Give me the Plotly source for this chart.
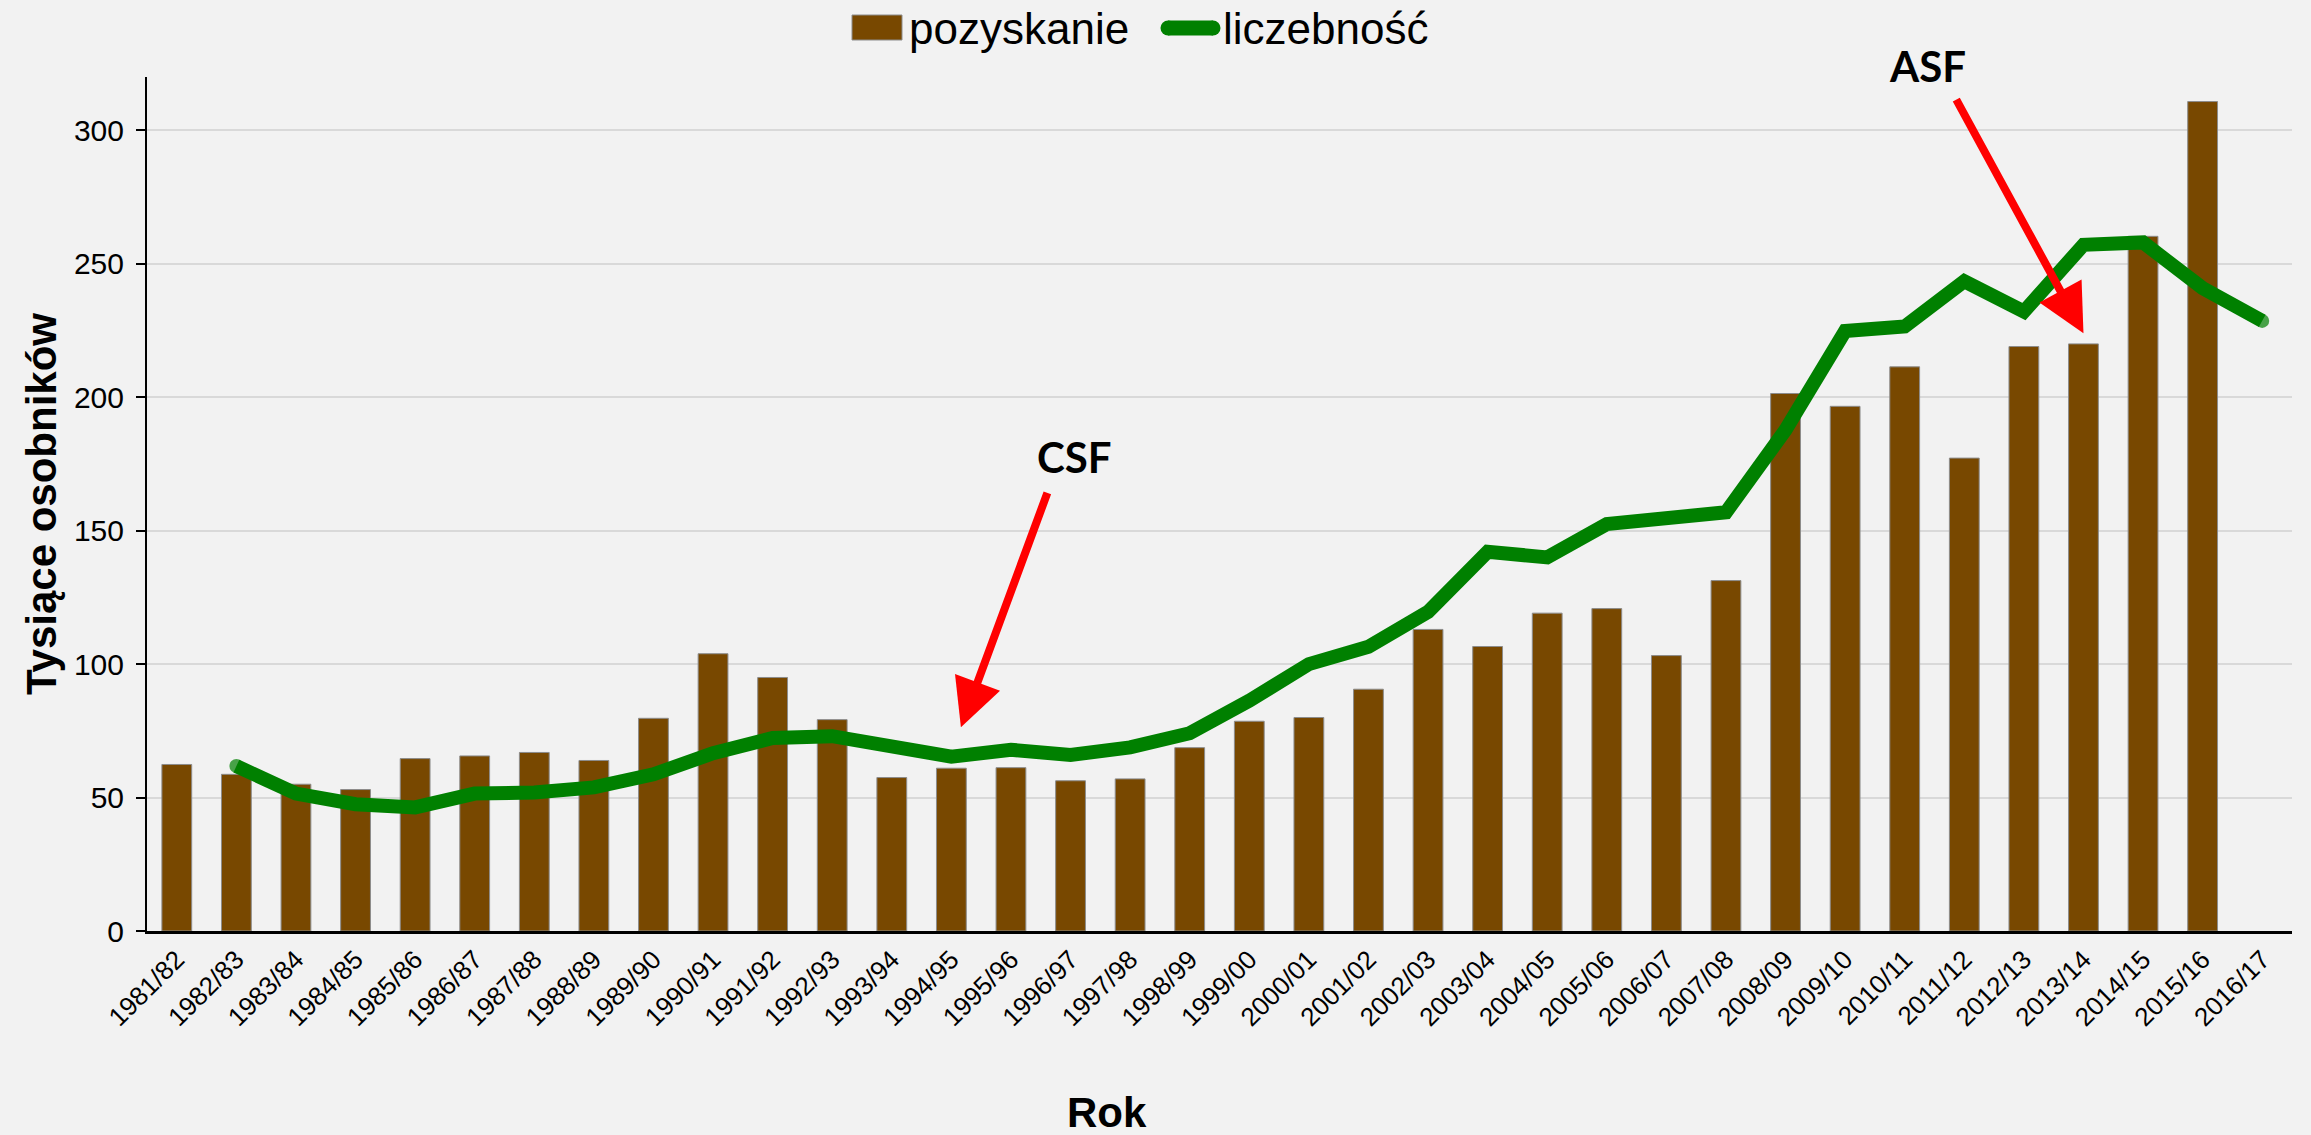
import plotly.graph_objects as go

categories = ["1981/82", "1982/83", "1983/84", "1984/85", "1985/86", "1986/87",
              "1987/88", "1988/89", "1989/90", "1990/91", "1991/92", "1992/93",
              "1993/94", "1994/95", "1995/96", "1996/97", "1997/98", "1998/99",
              "1999/00", "2000/01", "2001/02", "2002/03", "2003/04", "2004/05",
              "2005/06", "2006/07", "2007/08", "2008/09", "2009/10", "2010/11",
              "2011/12", "2012/13", "2013/14", "2014/15", "2015/16", "2016/17"]

pozyskanie = [62.4, 58.7, 55.0, 53.0, 64.6, 65.6, 66.9, 63.9, 79.7, 103.9,
              95.0, 79.2, 57.5, 61.0, 61.2, 56.3, 57.0, 68.7, 78.6, 80.0,
              90.6, 113.0, 106.6, 119.1, 120.8, 103.2, 131.3, 201.4, 196.6, 211.4,
              177.2, 219.0, 220.0, 260.3, 310.8, None]

liczebnosc_categories = categories[1:]
liczebnosc = [61.8, 51.5, 47.5, 46.3, 51.5, 51.9, 53.8, 58.7, 66.6, 72.3,
              73.0, 69.0, 65.3, 67.9, 66.0, 68.8, 74.1, 86.3, 100.0, 106.5,
              119.6, 142.1, 140.0, 152.5, 155.3, 156.9, 187.8, 224.8, 226.5, 243.5,
              232.1, 257.1, 258.0, 240.9, 228.6]

y_ticks = [0, 50, 100, 150, 200, 250, 300]

BG = "#F2F2F2"
BROWN = "#784800"
GREEN = "#008000"
FONT = "Liberation Sans, Arial, sans-serif"
LW = 14

W, H = 2311, 1135
ML, MR, MT, MB = 147, 19, 77, 204
PW, PH = W - ML - MR, H - MT - MB


def px(X):
    return (X - ML) / PW


def py(Y):
    return (H - MB - Y) / PH


# line end caps (rounded) drawn as markers at the ends of the line trace
end_sizes = [LW] + [0] * (len(liczebnosc) - 2) + [LW]

fig = go.Figure()
fig.add_trace(go.Bar(
    x=categories, y=pozyskanie, name="pozyskanie",
    marker=dict(color=BROWN, line=dict(color="#8C8C8C", width=1)),
))
fig.add_trace(go.Scatter(
    x=liczebnosc_categories, y=liczebnosc, name="liczebność", mode="lines+markers",
    line=dict(color=GREEN, width=LW),
    marker=dict(color=GREEN, size=end_sizes, line=dict(width=0)),
))

# custom legend
legend_shapes = [
    dict(type="rect", xref="paper", yref="paper",
         x0=px(852), x1=px(902), y0=py(40), y1=py(15),
         fillcolor=BROWN, line=dict(color="#8C8C8C", width=1)),
    dict(type="line", xref="paper", yref="paper",
         x0=px(1168), x1=px(1213), y0=py(28), y1=py(28),
         line=dict(color=GREEN, width=15)),
    dict(type="circle", xref="paper", yref="paper", xsizemode="pixel", ysizemode="pixel",
         xanchor=px(1168), yanchor=py(28), x0=-7.5, x1=7.5, y0=-7.5, y1=7.5,
         fillcolor=GREEN, line=dict(width=0)),
    dict(type="circle", xref="paper", yref="paper", xsizemode="pixel", ysizemode="pixel",
         xanchor=px(1213), yanchor=py(28), x0=-7.5, x1=7.5, y0=-7.5, y1=7.5,
         fillcolor=GREEN, line=dict(width=0)),
]

fig.update_layout(
    width=W, height=H,
    paper_bgcolor=BG, plot_bgcolor=BG,
    margin=dict(l=ML, r=MR, t=MT, b=MB, autoexpand=False),
    bargap=0.5,
    font=dict(family=FONT, color="#000000"),
    showlegend=False,
    hovermode=False,
    shapes=legend_shapes,
    xaxis=dict(
        type="category", tickangle=-45, tickfont=dict(size=26, family=FONT, color="#000000"),
        showline=True, linecolor="#000000", linewidth=3, ticks="", showgrid=False,
        range=[-0.5, len(categories) - 0.5],
    ),
    yaxis=dict(
        range=[0, 320], tickvals=y_ticks, tickfont=dict(size=30, family=FONT, color="#000000"),
        showline=True, linecolor="#000000", linewidth=2, ticks="outside", ticklen=9,
        tickcolor="#000000", tickwidth=2, showgrid=True, gridcolor="#D9D9D9", gridwidth=2,
        zeroline=False, ticklabelstandoff=6,
    ),
    annotations=[
        dict(text="pozyskanie", xref="paper", yref="paper", x=px(907), y=py(28),
             showarrow=False, xanchor="left", yanchor="middle",
             font=dict(size=44, family=FONT, color="#000000")),
        dict(text="liczebność", xref="paper", yref="paper", x=px(1221), y=py(28),
             showarrow=False, xanchor="left", yanchor="middle",
             font=dict(size=44, family=FONT, color="#000000")),
        dict(text="<b>Tysiące osobników</b>", xref="paper", yref="paper",
             x=px(41), y=0.5, textangle=-90, showarrow=False,
             font=dict(size=42, family=FONT, color="#000000"),
             xanchor="center", yanchor="middle"),
        dict(text="<b>Rok</b>", xref="paper", yref="paper",
             x=px(1107), y=py(1112), showarrow=False,
             font=dict(size=42, family=FONT, color="#000000"),
             xanchor="center", yanchor="middle"),
        dict(text="<b>CSF</b>", xref="x", yref="y", x=15.07, y=177.8, showarrow=False,
             font=dict(size=42, family="Lato, Open Sans, sans-serif", color="#000000"),
             xanchor="center", yanchor="middle"),
        dict(text="<b>ASF</b>", xref="paper", yref="paper", x=px(1927), y=py(66),
             showarrow=False,
             font=dict(size=42, family="Lato, Open Sans, sans-serif", color="#000000"),
             xanchor="center", yanchor="middle"),
        dict(text="", xref="x", yref="y", x=13.16, y=76.3, ax=87, ay=-236,
             showarrow=True, arrowhead=2, arrowsize=1.2, arrowwidth=8, arrowcolor="#FF0000"),
        dict(text="", xref="x", yref="y", x=32.0, y=224.0, ax=-128, ay=-235,
             showarrow=True, arrowhead=2, arrowsize=1.2, arrowwidth=8, arrowcolor="#FF0000"),
    ],
)

fig.write_html(
    "out.html",
    config={"displayModeBar": False, "staticPlot": True},
    post_script="document.body.style.margin='0px';document.body.style.overflow='hidden';",
)
